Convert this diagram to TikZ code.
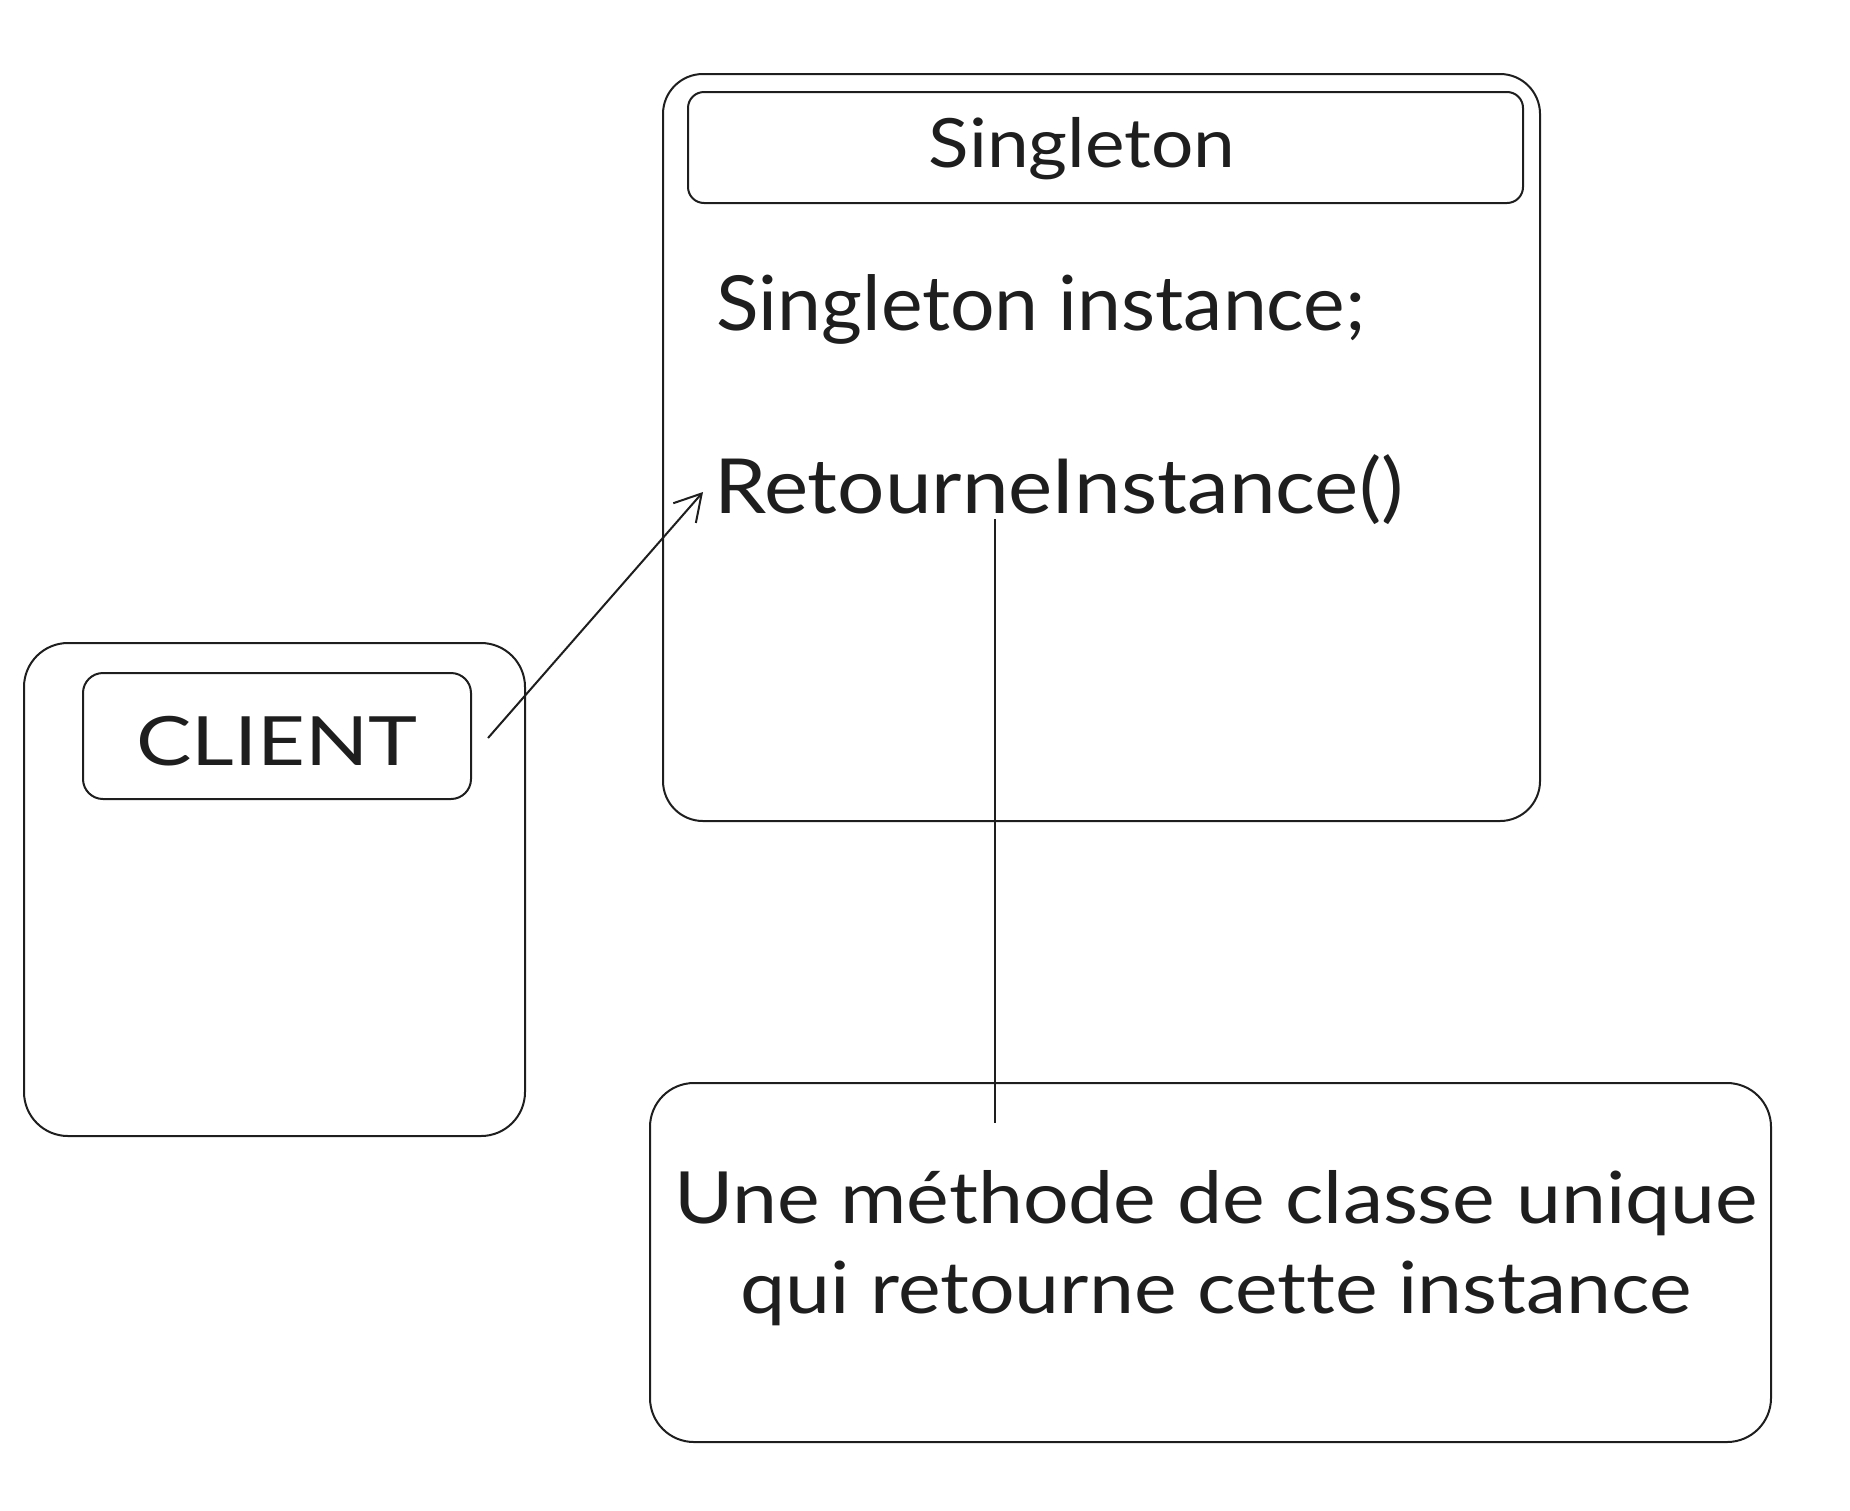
\documentclass[tikz,border=0pt]{standalone}
\usepackage{fontspec}
\setmainfont{Lato}[Ligatures=NoCommon]
\newfontfamily\handA{Lato}[FakeStretch=1.1,Ligatures=NoCommon]
\newfontfamily\handB{Lato}[FakeStretch=1.12,Ligatures=NoCommon]
\newfontfamily\handC{Lato}[FakeStretch=1.22,Ligatures=NoCommon]
\newfontfamily\handD{Lato}[FakeStretch=1.035,Ligatures=NoCommon]
\usetikzlibrary{arrows.meta}
\definecolor{ink}{HTML}{1E1E1E}
\begin{document}
\begin{tikzpicture}[x=0.5pt,y=-0.5pt,
  box/.style={draw=ink,line width=1pt,rounded corners=#1,inner sep=0pt,outer sep=0pt},
  box/.default=20pt,
  txt/.style={text=ink,inner sep=0pt,font=\fontsize{#1}{#1}\selectfont},
  conn/.style={draw=ink,line width=1pt}]
\useasboundingbox (0,0) rectangle (1850,1510);
% Singleton class
\node[box=20pt,minimum width=438.5pt,minimum height=373.5pt] (sing) at (1101.5,447.5) {};
\node[box=8pt,minimum width=417.5pt,minimum height=55.5pt] (singhead) at (1105.5,147.5) {};
\node[txt=34pt] (singtitle) at (1082,149) {\handA Singleton};
\node[txt=38pt,anchor=west] (attr) at (716,309) {\handD\fontsize{38pt}{38pt}\selectfont Singleton instance;};
\node[txt=38pt,anchor=west] (meth) at (714,490) {\handA\fontsize{38pt}{38pt}\selectfont RetourneInstance()};
% Client
\node[box=22pt,minimum width=250.5pt,minimum height=246.5pt] (client) at (274.5,889.5) {};
\node[box=10pt,minimum width=194pt,minimum height=63pt] (clienthead) at (277,736) {};
\node[txt=34pt] (clienttxt) at (277,741) {\handC\fontsize{34pt}{34pt}\selectfont CLIENT};
% Note
\node[box=22pt,minimum width=560.5pt,minimum height=179.5pt] (note) at (1210.5,1262.5) {};
\node[txt=36pt,align=center,font=\handB\fontsize{36pt}{36pt}\selectfont] (notetxt) at (1216,1248) {Une méthode de classe unique\\[9pt]qui retourne cette instance};
% connectors
\coordinate (arrS) at (488,738);
\coordinate (arrE) at (703,492);
\draw[conn,-{Straight Barb[length=13pt,width=15pt,line width=1pt]}] (arrS) -- (arrE);
\coordinate (vS) at (995,519);
\coordinate (vE) at (995,1123);
\draw[conn] (vS) -- (vE);
\end{tikzpicture}
\end{document}
